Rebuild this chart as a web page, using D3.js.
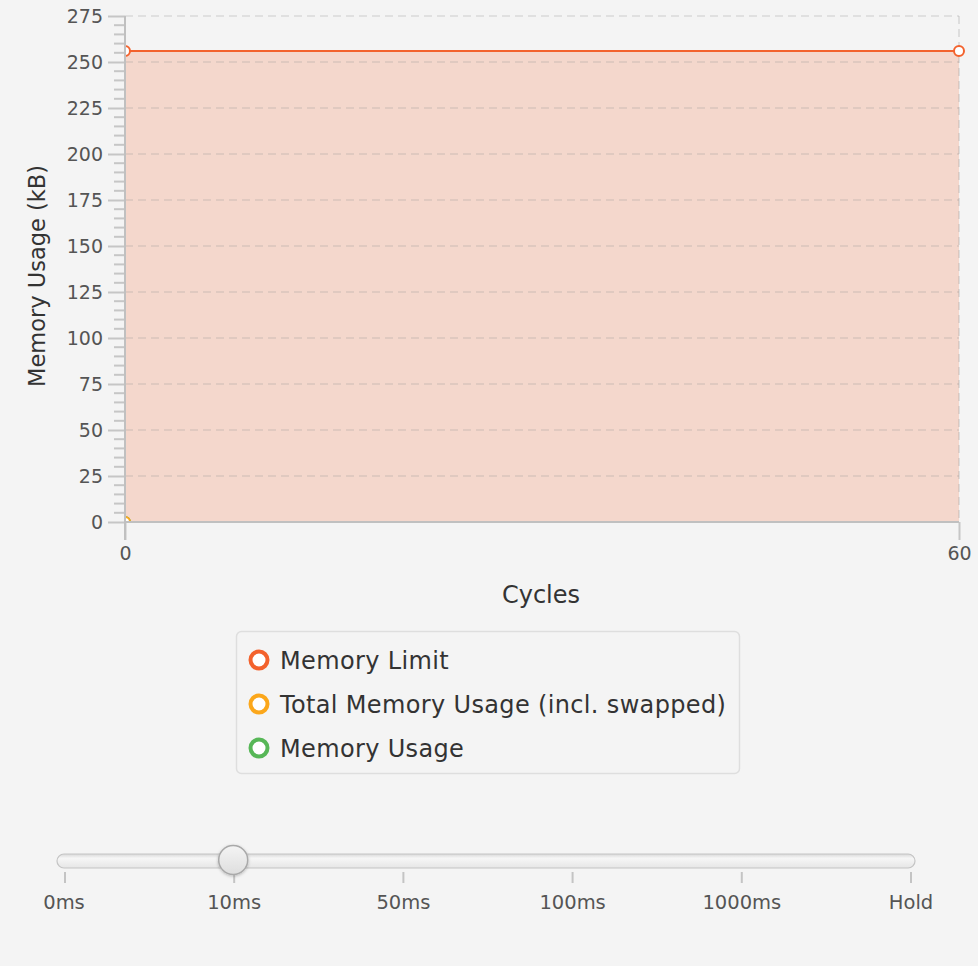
<!DOCTYPE html>
<html><head><meta charset="utf-8">
<script src="https://cdn.jsdelivr.net/npm/d3@7"></script>
<style>
html,body{margin:0;padding:0;background:#f4f4f4;}
svg{display:block;font-family:"DejaVu Sans",Verdana,sans-serif;}
svg text{font-family:"DejaVu Sans",Verdana,sans-serif;}
</style></head><body>
<svg id="c" width="978" height="966"></svg>
<script>
const cycles = [0, 60];
const memoryLimit = [256, 256];
const totalMemoryCycles = [0];
const totalMemory = [0];
const memoryUsageCycles = [0];
const memoryUsage = [0];
const yTicks = [0,25,50,75,100,125,150,175,200,225,250,275];
const xTicks = [0,60];
const seriesNames = ["Memory Limit","Total Memory Usage (incl. swapped)","Memory Usage"];
const seriesColors = ["#f3622d","#fba71b","#57b757"];
const sliderLabels = ["0ms","10ms","50ms","100ms","1000ms","Hold"];
const sliderValue = "10ms";

const FONT = '"DejaVu Sans",Verdana,sans-serif';
const svg = d3.select("#c");
const x = d3.scaleLinear().domain([0,60]).range([125,959]);
const y = d3.scaleLinear().domain([0,275]).range([522,16]);

// area fill
const lim = cycles.map((c,i)=>({c, v:memoryLimit[i]}));
svg.append("path").datum(lim)
  .attr("d", d3.area().x(d=>x(d.c)).y0(y(0)).y1(d=>y(d.v)))
  .attr("fill","#f4d7cc");

// grid
svg.append("g").selectAll("line").data(yTicks.filter(t=>t>0)).join("line")
  .attr("x1",125).attr("x2",959).attr("y1",d=>y(d)).attr("y2",d=>y(d))
  .attr("stroke","rgba(150,150,150,0.28)").attr("stroke-width",1.3).attr("stroke-dasharray","8,5");
svg.append("line").attr("x1",959).attr("x2",959).attr("y1",16).attr("y2",522)
  .attr("stroke","rgba(150,150,150,0.3)").attr("stroke-width",1.5).attr("stroke-dasharray","8,5");

// y axis
const yAxis = d3.axisLeft(y).tickValues(yTicks).tickSize(17).tickPadding(5);
const gy = svg.append("g").attr("transform","translate(125,0)").call(yAxis);
gy.select(".domain").attr("stroke","#c0c0c0").attr("stroke-width",2).attr("d","M0,16V522");
gy.selectAll(".tick line").attr("stroke","#c6c6c6").attr("stroke-width",2);
gy.selectAll(".tick text").attr("fill","#555").style("font-size","19px").style("font-family",FONT);
// minor ticks
const minor = d3.range(0,276,5).filter(v=>v%25!==0);
svg.append("g").selectAll("line").data(minor).join("line")
  .attr("x1",114).attr("x2",125).attr("y1",d=>y(d)).attr("y2",d=>y(d))
  .attr("stroke","#c6c6c6").attr("stroke-width",2);

// x axis
const xAxis = d3.axisBottom(x).tickValues(xTicks).tickSize(18).tickPadding(7);
const gx = svg.append("g").attr("transform","translate(0,522)").call(xAxis);
gx.select(".domain").attr("stroke","#c0c0c0").attr("stroke-width",2).attr("d","M125,0H959");
gx.selectAll(".tick line").attr("stroke","#c6c6c6").attr("stroke-width",2);
gx.selectAll(".tick text").attr("fill","#555").style("font-size","19px").style("font-family",FONT);

// limit line
svg.append("path").datum(lim)
  .attr("d", d3.line().x(d=>x(d.c)).y(d=>y(d.v)))
  .attr("fill","none").attr("stroke",seriesColors[0]).attr("stroke-width",2);

// points (clipped to plot)
svg.append("clipPath").attr("id","clip").append("rect").attr("x",125).attr("y",0).attr("width",834+20).attr("height",522);
const pts = svg.append("g").attr("clip-path","url(#clip)");
pts.selectAll(".mu").data(memoryUsageCycles.map((c,i)=>({c,v:memoryUsage[i]}))).join("circle")
  .attr("cx",d=>x(d.c)).attr("cy",d=>y(d.v)).attr("r",5).attr("fill","#fff").attr("stroke",seriesColors[2]).attr("stroke-width",2);
pts.selectAll(".tm").data(totalMemoryCycles.map((c,i)=>({c,v:totalMemory[i]}))).join("circle")
  .attr("cx",d=>x(d.c)).attr("cy",d=>y(d.v)).attr("r",5).attr("fill","#fff").attr("stroke",seriesColors[1]).attr("stroke-width",2);
pts.selectAll(".ml").data(lim).join("circle")
  .attr("cx",d=>x(d.c)).attr("cy",d=>y(d.v)).attr("r",5).attr("fill","#fff").attr("stroke",seriesColors[0]).attr("stroke-width",2);
// re-draw axis line over points
svg.append("line").attr("x1",125).attr("x2",125).attr("y1",16).attr("y2",540).attr("stroke","#c0c0c0").attr("stroke-width",2);
svg.append("line").attr("x1",125).attr("x2",959).attr("y1",522).attr("y2",522).attr("stroke","#c0c0c0").attr("stroke-width",2);

// axis titles
svg.append("text").attr("x",541).attr("y",603).attr("text-anchor","middle")
  .attr("fill","#333").style("font-size","24px").text("Cycles");
svg.append("text").attr("transform","translate(45,276) rotate(-90)").attr("text-anchor","middle")
  .attr("fill","#333").style("font-size","22.5px").text("Memory Usage (kB)");

// legend
svg.append("rect").attr("x",236.5).attr("y",631.5).attr("width",503).attr("height",142).attr("rx",5)
  .attr("fill","#f4f4f4").attr("stroke","#dedede").attr("stroke-width",1.5);
const lg = svg.append("g").selectAll("g").data(seriesNames).join("g")
  .attr("transform",(d,i)=>`translate(259,${660+i*44})`);
lg.append("circle").attr("r",8.5).attr("fill","#fff").attr("stroke",(d,i)=>seriesColors[i]).attr("stroke-width",4);
lg.append("text").attr("x",21).attr("y",8.5).attr("fill","#333").style("font-size","24px")
  .style("letter-spacing","0.35px").text(d=>d);

// slider
const sx = d3.scalePoint().domain(sliderLabels).range([65,911]);
const defs = svg.append("defs");
const gr = defs.append("linearGradient").attr("id","trk").attr("x1",0).attr("x2",0).attr("y1",0).attr("y2",1);
gr.append("stop").attr("offset","0").attr("stop-color","#d8d8d8");
gr.append("stop").attr("offset","0.3").attr("stop-color","#f6f6f6");
gr.append("stop").attr("offset","1").attr("stop-color","#e6e6e6");
svg.append("rect").attr("x",57).attr("y",854).attr("width",858).attr("height",14).attr("rx",7)
  .attr("fill","url(#trk)").attr("stroke","#c4c4c4").attr("stroke-width",1.2);
svg.append("g").selectAll("line").data(sliderLabels).join("line")
  .attr("x1",d=>sx(d)).attr("x2",d=>sx(d)).attr("y1",872).attr("y2",883)
  .attr("stroke","#c4c4c4").attr("stroke-width",2);
svg.append("g").selectAll("text").data(sliderLabels).join("text")
  .attr("x",d=>sx(d)-(d==="0ms"?1:0)).attr("y",909).attr("text-anchor","middle")
  .attr("fill","#555").style("font-size","19.5px").text(d=>d);
const tg = defs.append("linearGradient").attr("id","thumb").attr("x1",0).attr("x2",0).attr("y1",0).attr("y2",1);
tg.append("stop").attr("offset","0").attr("stop-color","#f4f4f4");
tg.append("stop").attr("offset","1").attr("stop-color","#dedede");
const flt = defs.append("filter").attr("id","sh").attr("x","-50%").attr("y","-50%").attr("width","200%").attr("height","200%");
flt.append("feDropShadow").attr("dx",0).attr("dy",1).attr("stdDeviation",1.5).attr("flood-opacity",0.25);
svg.append("circle").attr("cx",sx(sliderValue)-1).attr("cy",860).attr("r",14.5)
  .attr("fill","url(#thumb)").attr("stroke","#a9a9a9").attr("stroke-width",1.5).attr("filter","url(#sh)");
</script></body></html>
